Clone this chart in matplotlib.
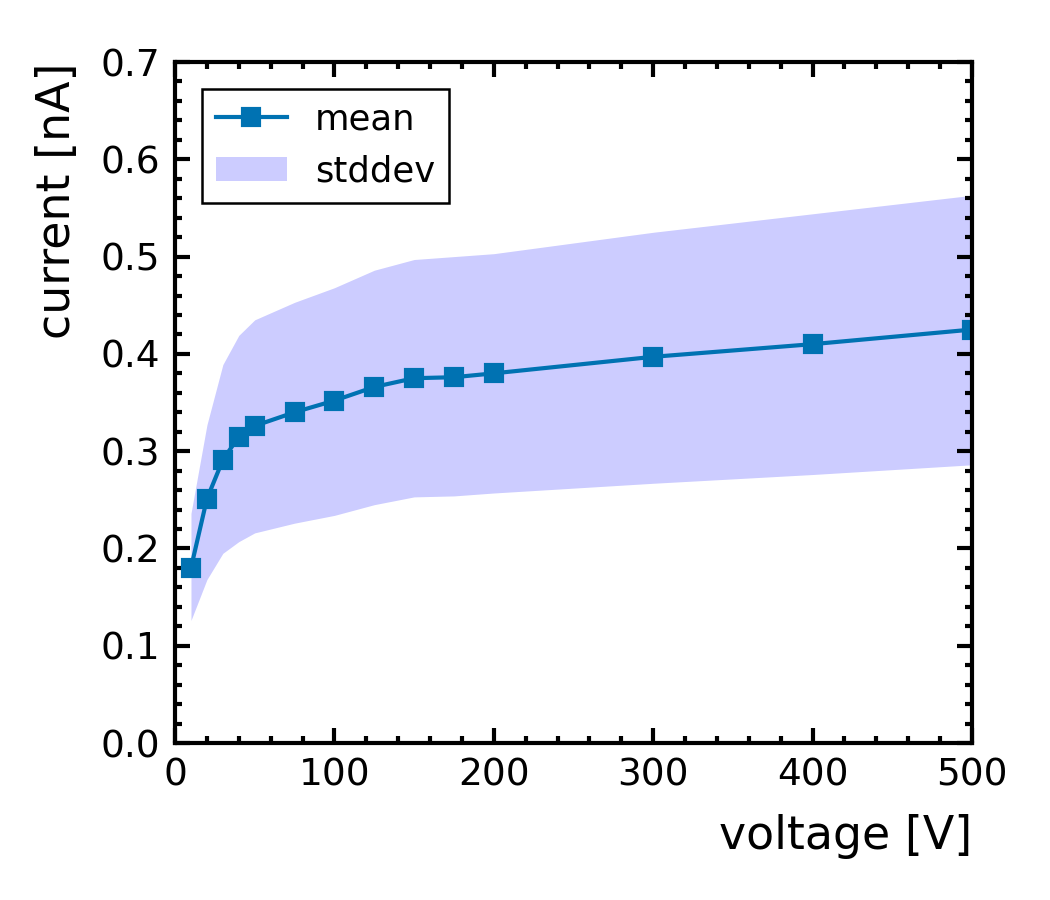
import matplotlib
matplotlib.use("Agg")
import matplotlib.pyplot as plt
from matplotlib.ticker import MultipleLocator

# data
voltage = [10, 20, 30, 40, 50, 75, 100, 125, 150, 175, 200, 300, 400, 500]
mean = [0.180, 0.251, 0.291, 0.315, 0.326, 0.340, 0.352, 0.366, 0.375, 0.376,
        0.380, 0.397, 0.410, 0.425]
upper = [0.236, 0.327, 0.389, 0.419, 0.435, 0.453, 0.468, 0.486, 0.497, 0.500,
         0.503, 0.525, 0.544, 0.563]
lower = [0.126, 0.168, 0.195, 0.207, 0.216, 0.226, 0.234, 0.245, 0.253, 0.254,
         0.257, 0.267, 0.276, 0.286]

plt.rcParams["font.family"] = "DejaVu Sans"

fig = plt.figure(figsize=(3.5, 3.0), dpi=300)
ax = fig.add_axes([0.1667, 0.1744, 0.759, 0.7567])

ax.fill_between(voltage, lower, upper, color="blue", alpha=0.2, lw=0,
                label="stddev")
ax.plot(voltage, mean, color="#0072b2", marker="s", markersize=4, lw=1,
        label="mean")

ax.set_xlim(0, 500)
ax.set_ylim(0, 0.7)
ax.xaxis.set_major_locator(MultipleLocator(100))
ax.xaxis.set_minor_locator(MultipleLocator(20))
ax.yaxis.set_major_locator(MultipleLocator(0.1))
ax.yaxis.set_minor_locator(MultipleLocator(0.02))
ax.tick_params(which="both", direction="in", top=True, right=True,
               width=1, labelsize=9)
ax.tick_params(which="major", length=3.6)
ax.tick_params(which="minor", length=1.7)
for s in ax.spines.values():
    s.set_linewidth(1)

ax.set_xlabel("voltage [V]", fontsize=11, loc="right", labelpad=5)
ax.set_ylabel("current [nA]", fontsize=11, loc="top", labelpad=5)

h, l = ax.get_legend_handles_labels()
leg = ax.legend(h[::-1], l[::-1], loc="upper left", fontsize=8.5,
                fancybox=False, edgecolor="black", framealpha=1,
                borderaxespad=0.75)
leg.get_frame().set_linewidth(0.6)

fig.savefig("out.png", dpi=300)
